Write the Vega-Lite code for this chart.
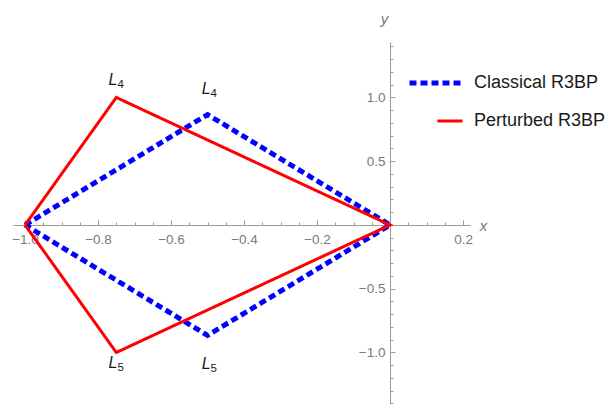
{
  "$schema": "https://vega.github.io/schema/vega-lite/v6.json",
  "width": 457,
  "height": 362,
  "autosize": {"type": "none"},
  "padding": {"left": 13, "top": 42, "right": 136, "bottom": 1},
  "background": "white",
  "config": {"view": {"stroke": null}, "font": "Liberation Sans"},
  "datasets": {
    "triangles": [
      {"series": "Classical R3BP", "order": 0, "x": -1.0, "y": 0.0},
      {"series": "Classical R3BP", "order": 1, "x": -0.5, "y": 0.866},
      {"series": "Classical R3BP", "order": 2, "x": 0.0, "y": 0.0},
      {"series": "Classical R3BP", "order": 3, "x": -0.5, "y": -0.866},
      {"series": "Classical R3BP", "order": 4, "x": -1.0, "y": 0.0},
      {"series": "Perturbed R3BP", "order": 0, "x": -1.0, "y": 0.0},
      {"series": "Perturbed R3BP", "order": 1, "x": -0.75, "y": 1.0},
      {"series": "Perturbed R3BP", "order": 2, "x": 0.0, "y": 0.0},
      {"series": "Perturbed R3BP", "order": 3, "x": -0.75, "y": -1.0},
      {"series": "Perturbed R3BP", "order": 4, "x": -1.0, "y": 0.0}
    ],
    "points": [
      {"name": "L", "sub": "4", "x": -0.5, "y": 1.07},
      {"name": "L", "sub": "5", "x": -0.5, "y": -1.09},
      {"name": "L", "sub": "4", "x": -0.755, "y": 1.14},
      {"name": "L", "sub": "5", "x": -0.755, "y": -1.08}
    ]
  },
  "resolve": {"axis": {"x": "independent", "y": "independent"}},
  "layer": [
    {
      "data": {"name": "triangles"},
      "mark": {"type": "line", "strokeCap": "butt", "strokeJoin": "miter"},
      "encoding": {
        "x": {
          "field": "x", "type": "quantitative",
          "scale": {"domain": [-1.033, 0.219], "nice": false, "zero": false},
          "axis": {
            "orient": "bottom", "offset": -179,
            "values": [-1, -0.8, -0.6, -0.4, -0.2, 0, 0.2],
            "format": ".1f",
            "labelExpr": "datum.value == 0 ? '' : replace(datum.label, '-', '\u2212')",
            "tickSize": -5, "labelPadding": 12, "grid": false,
            "domainColor": "#9a9a9a", "tickColor": "#9a9a9a",
            "labelColor": "#7a7a7a", "labelFontSize": 13.5, "labelFlush": false, "labelOverlap": false,
            "title": "x", "titleFontStyle": "italic", "titleFontWeight": "normal",
            "titleColor": "#7a7a7a", "titleFontSize": 15,
            "titleX": 470, "titleY": 0, "titleAlign": "center", "titleBaseline": "middle", "titleAngle": 0
          }
        },
        "y": {
          "field": "y", "type": "quantitative",
          "scale": {"domain": [-1.404, 1.435], "nice": false, "zero": false},
          "axis": {
            "orient": "left", "offset": -377,
            "values": [-1, -0.5, 0, 0.5, 1],
            "format": ".1f",
            "labelExpr": "datum.value == 0 ? '' : replace(datum.label, '-', '\u2212')",
            "tickSize": -5, "labelPadding": 10, "grid": false,
            "domainColor": "#9a9a9a", "tickColor": "#9a9a9a",
            "labelColor": "#7a7a7a", "labelFontSize": 13.5, "labelFlush": false, "labelOverlap": false,
            "title": "y", "titleFontStyle": "italic", "titleFontWeight": "normal",
            "titleColor": "#7a7a7a", "titleFontSize": 15,
            "titleX": -6, "titleY": -24, "titleAlign": "center", "titleBaseline": "middle", "titleAngle": 0
          }
        },
        "order": {"field": "order", "type": "quantitative"},
        "color": {
          "field": "series", "type": "nominal",
          "scale": {"domain": ["Classical R3BP", "Perturbed R3BP"], "range": ["#0000ff", "#ff0000"]},
          "legend": {
            "orient": "none", "legendX": 394, "legendY": 12, "title": null,
            "symbolSize": 2809, "rowPadding": -11,
            "labelFontSize": 18, "labelColor": "#1a1a1a", "labelOffset": 9
          }
        },
        "strokeDash": {
          "field": "series", "type": "nominal",
          "scale": {"domain": ["Classical R3BP", "Perturbed R3BP"], "range": [[7, 4], [1, 0]]}
        },
        "strokeWidth": {
          "field": "series", "type": "nominal",
          "scale": {"domain": ["Classical R3BP", "Perturbed R3BP"], "range": [5, 3]}
        }
      }
    },
    {
      "data": {"name": "triangles"},
      "mark": {"type": "point", "filled": false, "opacity": 0},
      "encoding": {
        "x": {"field": "x", "type": "quantitative", "scale": {"domain": [-1.033, 0.219], "nice": false, "zero": false}, "axis": null},
        "y": {"field": "y", "type": "quantitative", "scale": {"domain": [-1.404, 1.435], "nice": false, "zero": false}, "axis": null},
        "color": {
          "field": "series", "type": "nominal",
          "scale": {"domain": ["Classical R3BP", "Perturbed R3BP"], "range": ["#0000ff", "#ff0000"]}
        },
        "shape": {
          "field": "series", "type": "nominal",
          "scale": {"domain": ["Classical R3BP", "Perturbed R3BP"], "range": ["M-1,0H1", "M0.05,0H1"]}
        },
        "strokeDash": {
          "field": "series", "type": "nominal",
          "scale": {"domain": ["Classical R3BP", "Perturbed R3BP"], "range": [[7, 4], [1, 0]]}
        },
        "strokeWidth": {
          "field": "series", "type": "nominal",
          "scale": {"domain": ["Classical R3BP", "Perturbed R3BP"], "range": [5, 3]}
        }
      }
    },
    {
      "data": {"name": "points"},
      "mark": {"type": "text", "fontStyle": "italic", "fontSize": 16, "color": "#1a1a1a", "align": "right", "dx": 3, "baseline": "middle"},
      "encoding": {
        "x": {
          "field": "x", "type": "quantitative",
          "scale": {"domain": [-1.033, 0.219], "nice": false, "zero": false},
          "axis": {
            "orient": "bottom", "offset": -179,
            "values": [-1, -0.95, -0.9, -0.85, -0.8, -0.75, -0.7, -0.65, -0.6, -0.55, -0.5, -0.45, -0.4, -0.35, -0.3, -0.25, -0.2, -0.15, -0.1, -0.05, 0, 0.05, 0.1, 0.15, 0.2],
            "labels": false, "domain": false, "grid": false, "tickSize": -3, "tickColor": "#9a9a9a", "title": null
          }
        },
        "y": {
          "field": "y", "type": "quantitative",
          "scale": {"domain": [-1.404, 1.435], "nice": false, "zero": false},
          "axis": {
            "orient": "left", "offset": -377,
            "values": [-1.4, -1.3, -1.2, -1.1, -1.0, -0.9, -0.8, -0.7, -0.6, -0.5, -0.4, -0.3, -0.2, -0.1, 0, 0.1, 0.2, 0.3, 0.4, 0.5, 0.6, 0.7, 0.8, 0.9, 1.0, 1.1, 1.2, 1.3, 1.4],
            "labels": false, "domain": false, "grid": false, "tickSize": -3, "tickColor": "#9a9a9a", "title": null
          }
        },
        "text": {"field": "name"}
      }
    },
    {
      "data": {"name": "points"},
      "mark": {"type": "text", "fontSize": 11.5, "color": "#1a1a1a", "align": "left", "dx": 3, "dy": 5, "baseline": "middle"},
      "encoding": {
        "x": {"field": "x", "type": "quantitative", "scale": {"domain": [-1.033, 0.219], "nice": false, "zero": false}, "axis": null},
        "y": {"field": "y", "type": "quantitative", "scale": {"domain": [-1.404, 1.435], "nice": false, "zero": false}, "axis": null},
        "text": {"field": "sub"}
      }
    }
  ]
}
